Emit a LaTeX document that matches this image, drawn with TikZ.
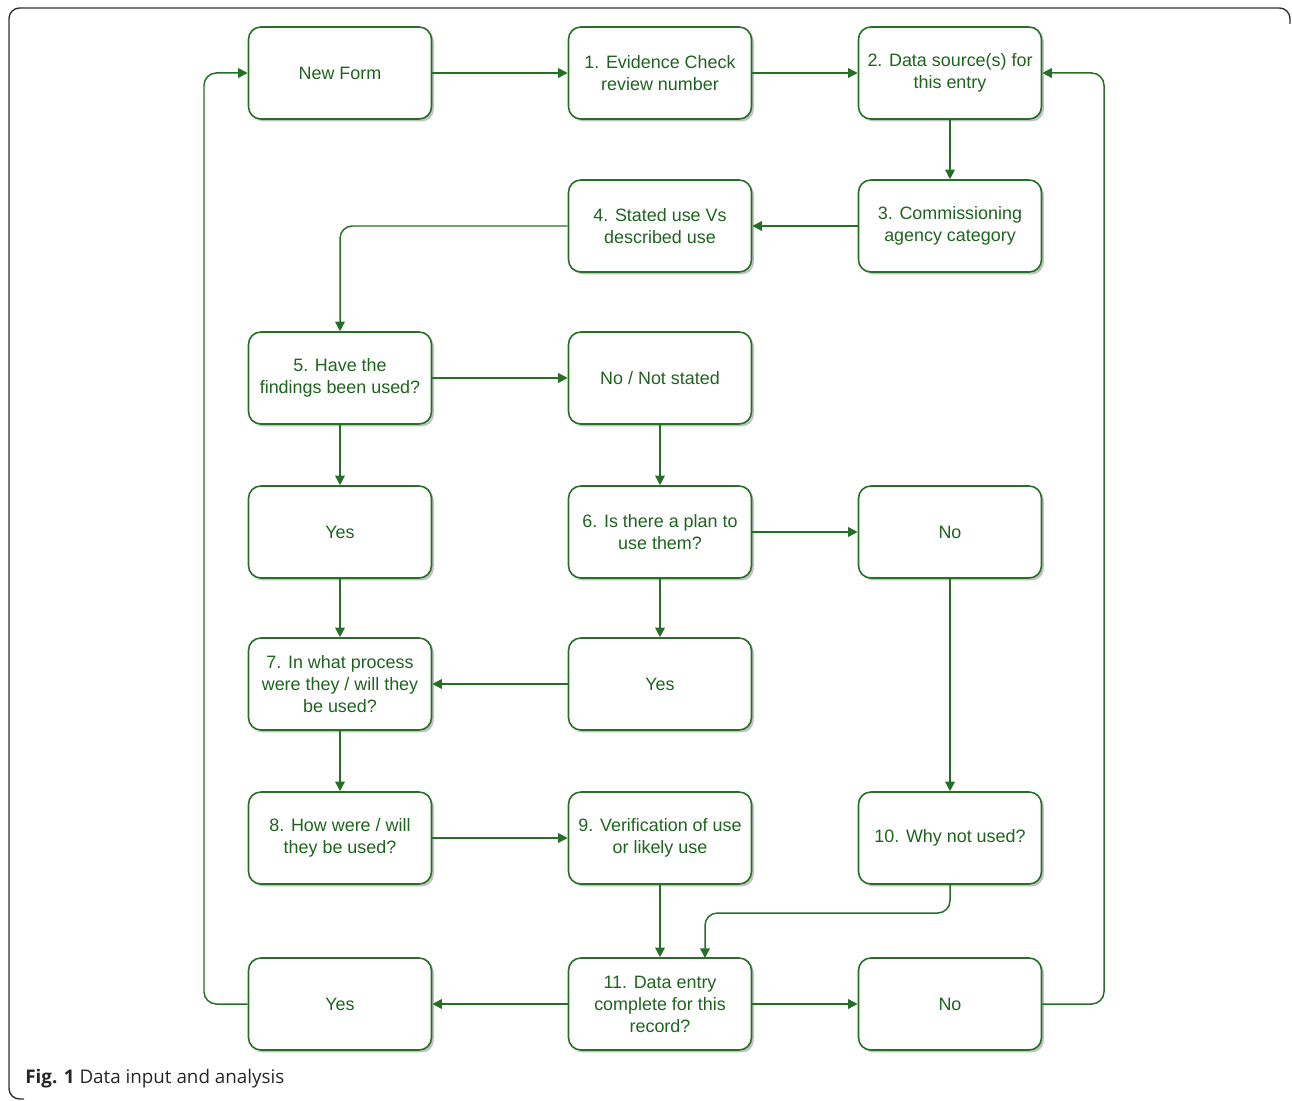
\documentclass[tikz,border=0pt]{standalone}
\usepackage{fontspec}
\setmainfont{Liberation Sans}
\newfontfamily\capfont{Open Sans}
\usetikzlibrary{positioning,arrows.meta,shadows}
\definecolor{flowgreen}{RGB}{38,112,38}
\definecolor{textgreen}{RGB}{30,100,30}
\definecolor{framegray}{RGB}{50,50,50}

\begin{document}
\begin{tikzpicture}[x=0.02cm,y=-0.02cm,
	box/.style={draw=flowgreen,line width=0.9pt,rounded corners=7pt,fill=white,text=textgreen,
		align=center,minimum width=3.66cm,minimum height=1.84cm,inner sep=2pt,
		font=\fontsize{10.2}{12.5}\selectfont,
		drop shadow={shadow xshift=1.4pt,shadow yshift=-1.4pt,opacity=0.4,fill=black!60}},
	link/.style={draw=flowgreen,line width=0.85pt,rounded corners=7pt,-{Triangle[length=5.5pt,width=5.5pt]}}]

\useasboundingbox (0,0) rectangle (1292,1101);
\draw[framegray,line width=0.8pt,rounded corners=6pt] (24,1099) -- (9,1099) -- (9,8) -- (1290,8) -- (1290,24);

\node[box] (nf) at (340,73) {New Form};
\node[box] (n1) at (660,73) {1. Evidence Check\\review number};
\node[box] (n2) at (950,73) {2. Data source(s) for\\this entry};
\node[box] (n3) at (950,226) {3. Commissioning\\agency category};
\node[box] (n4) at (660,226) {4. Stated use Vs\\described use};
\node[box] (n5) at (340,378) {5. Have the\\findings been used?};
\node[box] (ns) at (660,378) {No / Not stated};
\node[box] (y5) at (340,532) {Yes};
\node[box] (n6) at (660,532) {6. Is there a plan to\\use them?};
\node[box] (no6) at (950,532) {No};
\node[box] (y6) at (660,684) {Yes};
\node[box] (n7) at (340,684) {7. In what process\\were they / will they\\be used?};
\node[box] (n8) at (340,838) {8. How were / will\\they be used?};
\node[box] (n9) at (660,838) {9. Verification of use\\or likely use};
\node[box] (n10) at (950,838) {10. Why not used?};
\node[box] (n11) at (660,1004) {11. Data entry\\complete for this\\record?};
\node[box] (y11) at (340,1004) {Yes};
\node[box] (no11) at (950,1004) {No};

\coordinate (k10) at (950,913);
\coordinate (e11) at (705,958);
\coordinate (l1) at (204,1004);
\coordinate (r1) at (1104,1004);

\foreach \x/\y in {nf/n1,n1/n2,n2/n3,n3/n4,n5/ns,n5/y5,ns/n6,n6/no6,n6/y6,y5/n7,y6/n7,n7/n8,n8/n9,no6/n10,n9/n11,n11/y11,n11/no11}
	\draw[link] (\x) -- (\y);
\draw[link] (n4) -| (n5);
\draw[link] (n10) -- (k10) -| (e11);
\draw[link] (y11) -- (l1) |- (nf);
\draw[link] (no11) -- (r1) |- (n2);

\node[anchor=base west,inner sep=0pt,text=black!85,font=\capfont\fontsize{10.7}{13}\selectfont] (cap) at (25,1083) {\textbf{Fig. 1} Data input and analysis};
\end{tikzpicture}
\end{document}
